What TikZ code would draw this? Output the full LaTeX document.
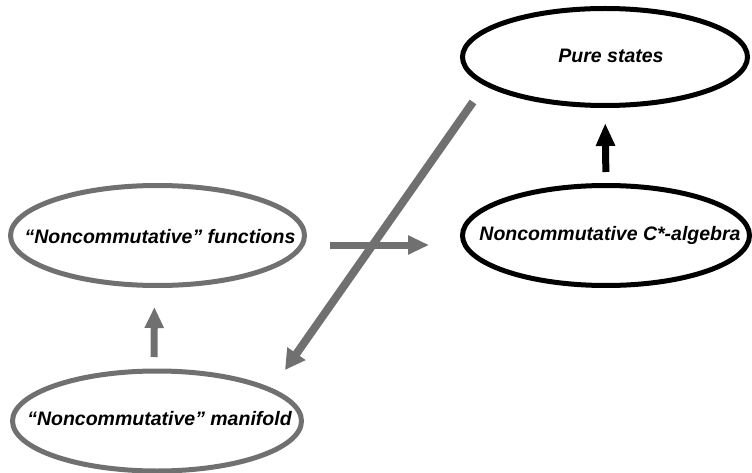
\documentclass[tikz,border=0pt]{standalone}
\usepackage{fontspec}
\setmainfont{Liberation Sans}
\usetikzlibrary{shapes.geometric,arrows.meta}
\definecolor{arrowgray}{RGB}{112,112,112}
\begin{document}
\begin{tikzpicture}[x=1pt,y=-1pt,
  ell/.style={ellipse, line width=5pt, inner sep=0pt},
  blk/.style={ell, draw=black},
  gry/.style={ell, draw=arrowgray},
  lbl/.style={font=\fontsize{19.5}{22}\selectfont\bfseries\itshape, inner sep=0pt},
  garrow/.style={draw=arrowgray, line width=7pt, -{Triangle[length=21pt,width=18pt]}},
  barrow/.style={draw=black, line width=7pt, -{Triangle[length=23pt,width=18pt]}},
  darrow/.style={draw=arrowgray, line width=8pt, -{Triangle[length=20pt,width=21pt]}}]
\useasboundingbox (0,0) rectangle (752,473);
\node[blk, minimum width=285pt, minimum height=97pt] (pure) at (605,57) {};
\node[blk, minimum width=287pt, minimum height=100pt] (cstar) at (606,235.5) {};
\node[gry, minimum width=294pt, minimum height=100pt] (func) at (157.5,235.5) {};
\node[gry, minimum width=289pt, minimum height=100pt] (mani) at (157,421) {};
\node[lbl] (puret) at (611,56) {Pure states};
\node[lbl] (cstart) at (610,235) {Noncommutative C*-algebra};
\node[lbl] (funct) at (160,237) {“Noncommutative” functions};
\node[lbl] (manit) at (159.5,419) {“Noncommutative” manifold};
\draw[barrow, shorten <=11pt, shorten >=15pt] (cstar.north) -- (pure.south);
\draw[garrow, shorten <=11.5pt, shorten >=19pt] ([xshift=-3pt]mani.north) -- ([xshift=-3pt]func.south);
\draw[garrow, shorten <=23pt, shorten >=31pt] ([yshift=-9.5pt]func.east) -- ([yshift=-9.5pt]cstar.west);
\coordinate (d1) at (473,102);
\coordinate (d2) at (285,370);
\draw[darrow] (d1) -- (d2);
\end{tikzpicture}
\end{document}
